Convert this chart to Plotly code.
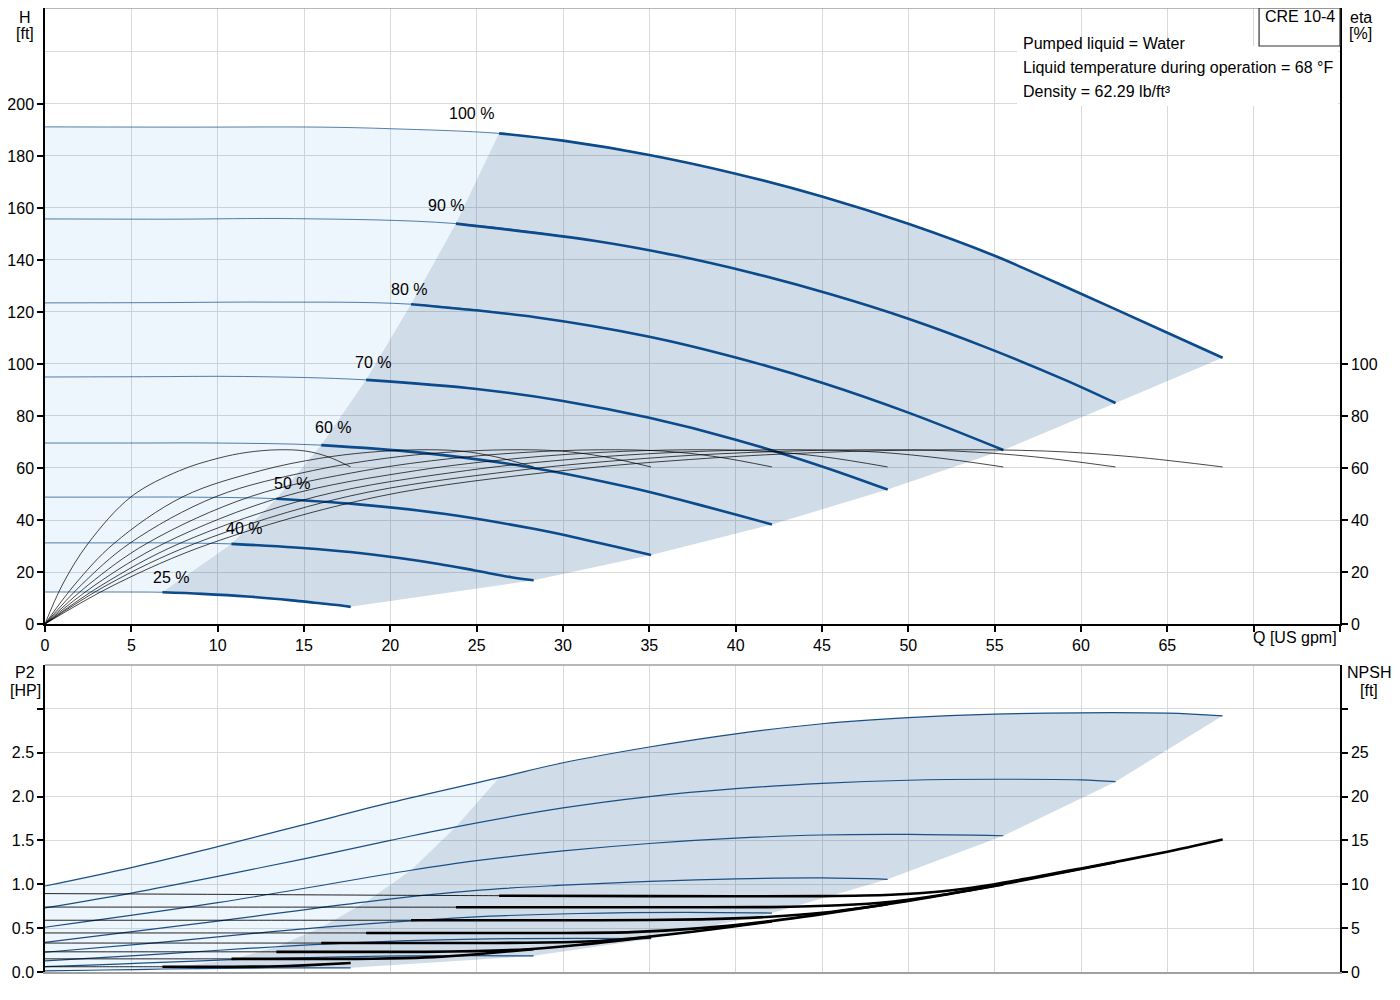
import plotly.graph_objects as go
from plotly.subplots import make_subplots

# pump CRE 10-4, speed family 100 % ... 25 %
SPEEDS = ["100 %", "90 %", "80 %", "70 %", "60 %", "50 %", "40 %", "25 %"]
MIN_FLOW = [26.3, 23.8, 21.2, 18.6, 16.0, 13.4, 10.8, 6.8]

# head H [ft] vs Q [US gpm]
H_Q = [
    [0, 8, 16, 20, 26.3, 30, 35, 40, 45, 50, 55, 60, 65, 68.2],
    [0, 7.3, 14.5, 23.8, 31.8, 36.4, 40.9, 45.5, 50, 54.5, 59.1, 62.0],
    [0, 6.5, 13, 21.2, 28.4, 35, 40, 45, 50, 55.5],
    [0, 5.7, 11.5, 18.6, 25, 30, 35, 40, 45, 48.8],
    [0, 4.9, 9.9, 16.0, 21.6, 27.8, 33.9, 37.0, 40.1, 42.1],
    [0, 4.1, 8.2, 13.4, 18.0, 23.2, 28.3, 30.9, 33.5, 35.1],
    [0, 3.3, 6.6, 10.8, 14.5, 18.7, 22.8, 24.9, 27.0, 28.3],
    [0, 2.1, 4.2, 6.8, 9.1, 11.7, 14.3, 15.6, 16.9, 17.7],
]
H_FT = [
    [191.2, 191.1, 191.1, 190.5, 188.7, 185.9, 180.4, 173.2, 164.4, 153.9, 141.6, 127.0, 112.0, 102.4],
    [155.8, 155.7, 155.9, 154.0, 147.4, 141.9, 135.1, 126.8, 117.4, 106.4, 93.8, 85.0],
    [123.5, 123.6, 123.8, 123.0, 118.0, 110.5, 102.5, 92.8, 81.3, 66.9],
    [95.0, 95.1, 95.2, 93.9, 90.4, 85.8, 79.3, 70.9, 60.6, 51.7],
    [69.6, 69.6, 69.6, 68.8, 66.0, 60.6, 52.5, 47.4, 41.9, 38.3],
    [48.8, 48.8, 48.8, 48.2, 46.1, 42.3, 36.6, 33.0, 29.0, 26.5],
    [31.2, 31.2, 31.2, 30.8, 29.4, 26.9, 23.1, 20.6, 18.0, 16.8],
    [12.3, 12.3, 12.3, 12.2, 11.6, 10.6, 9.1, 8.2, 7.3, 6.6],
]

# efficiency eta [%]
ETA_Q = [
    [0, 4, 9.6, 19.3, 30, 38.3, 45, 52, 58, 63, 68.2],
    [0, 3.6, 8.7, 17.5, 27.3, 34.8, 40.9, 47.3, 52.7, 57.3, 62.0],
    [0, 3.3, 7.8, 15.7, 24.4, 31.1, 36.5, 42.2, 47.2, 51.2, 55.5],
    [0, 2.9, 6.9, 13.8, 21.5, 27.4, 32.2, 37.2, 41.5, 45.1, 48.8],
    [0, 2.5, 5.9, 11.9, 18.5, 23.6, 27.8, 32.1, 35.8, 38.9, 42.1],
    [0, 2.1, 4.9, 9.9, 15.5, 19.7, 23.2, 26.8, 29.9, 32.4, 35.1],
    [0, 1.7, 4.0, 8.0, 12.5, 15.9, 18.7, 21.6, 24.1, 26.1, 28.3],
    [0, 1.0, 2.5, 5.0, 7.8, 10.0, 11.7, 13.5, 15.1, 16.4, 17.7],
]
ETA_PCT = [0, 15, 31, 49, 59, 63.7, 66, 67.0, 66.5, 64.3, 60.4]

# shaft power P2 [HP]
P2_Q = [
    [0, 5, 10, 15, 20, 26.3, 30, 35, 40, 45, 50, 55, 60, 65, 68.2],
    [0, 5, 10, 15, 20, 23.8, 30, 35, 40, 45, 50, 55, 60, 62.0],
    [0, 10, 21.2, 25, 30, 35, 40, 45, 50, 55.5],
    [0, 10, 18.6, 25, 30, 35, 40, 45, 48.8],
    [0, 6.2, 12.3, 16.0, 24.7, 30.9, 37.0, 42.1],
    [0, 5.2, 10.3, 13.4, 20.6, 25.8, 30.9, 35.1],
    [0, 4.2, 8.3, 10.8, 16.6, 20.8, 24.9, 28.3],
    [0, 2.6, 5.2, 6.8, 10.4, 13.0, 15.6, 17.7],
]
P2_HP = [
    [0.98, 1.19, 1.43, 1.68, 1.93, 2.215, 2.385, 2.565, 2.715, 2.83, 2.90, 2.94, 2.955, 2.95, 2.92],
    [0.73, 0.90, 1.09, 1.29, 1.50, 1.655, 1.87, 2.0, 2.09, 2.15, 2.186, 2.197, 2.19, 2.17],
    [0.51, 0.79, 1.16, 1.27, 1.38, 1.465, 1.525, 1.562, 1.568, 1.553],
    [0.337, 0.58, 0.80, 0.93, 0.99, 1.033, 1.062, 1.072, 1.057],
    [0.225, 0.329, 0.444, 0.508, 0.626, 0.667, 0.680, 0.672],
    [0.127, 0.186, 0.251, 0.288, 0.354, 0.377, 0.384, 0.380],
    [0.062, 0.090, 0.122, 0.140, 0.171, 0.183, 0.186, 0.184],
    [0.013, 0.020, 0.028, 0.034, 0.042, 0.046, 0.048, 0.048],
]

# NPSH [ft]
NPSH_Q = [
    [0, 10, 20, 26.3, 35, 45, 49, 52, 55, 60, 65, 68.2],
    [0, 10, 23.8, 35, 42, 46, 49, 52, 56, 62.0],
    [0, 10, 21.2, 32, 38, 42, 45, 50, 55.5],
    [0, 10, 18.6, 30, 34, 38, 42, 45, 48.8],
    [0, 8, 16.0, 26, 30, 33, 36, 39, 42.1],
    [0, 7, 13.4, 22, 25, 28, 31, 35.1],
    [0, 5, 10.8, 18, 20, 22.5, 25, 28.3],
    [0, 3, 6.8, 11, 13, 15, 17.7],
]
NPSH_FT = [
    [8.94, 8.85, 8.75, 8.7, 8.65, 8.65, 8.8, 9.2, 10.0, 11.8, 13.7, 15.1],
    [7.4, 7.4, 7.39, 7.39, 7.4, 7.6, 8.0, 8.8, 10.2, 12.5],
    [5.9, 5.9, 5.9, 5.9, 6.0, 6.3, 6.75, 8.1, 9.97],
    [4.45, 4.45, 4.45, 4.45, 4.55, 5.0, 5.8, 6.6, 7.74],
    [3.3, 3.3, 3.3, 3.3, 3.4, 3.65, 4.25, 4.95, 5.76],
    [2.3, 2.3, 2.3, 2.3, 2.38, 2.6, 3.1, 4.0],
    [1.5, 1.5, 1.5, 1.5, 1.55, 1.7, 2.03, 2.6],
    [0.6, 0.6, 0.6, 0.6, 0.63, 0.75, 1.02],
]

LABEL_Q = [24.7, 23.2, 21.1, 19.0, 16.7, 14.3, 11.5, 7.3]
LABEL_H = [196.5, 160.8, 128.8, 100.4, 75.4, 54.2, 36.9, 17.7]

Q_TICKS = list(range(0, 80, 5))
INFO = ["Pumped liquid = Water",
        "Liquid temperature during operation = 68 \u00b0F",
        "Density = 62.29 lb/ft\u00b3"]

BLUE = "#0b4a8b"
GRID = "#d9d9d9"
LIGHT = "rgba(30,130,230,0.08)"
SHADE = "rgba(20,80,135,0.2)"
FONT = "Liberation Sans, Arial, sans-serif"


def regions(qs, vals):
    n = len(qs)
    idx = [qs[j].index(MIN_FLOW[j]) for j in range(n)]
    lx = qs[0][:idx[0] + 1] + [MIN_FLOW[j] for j in range(1, n)] + qs[-1][:idx[-1]][::-1]
    ly = vals[0][:idx[0] + 1] + [vals[j][idx[j]] for j in range(1, n)] + vals[-1][:idx[-1]][::-1]
    gx = [MIN_FLOW[j] for j in range(n - 1, 0, -1)] + qs[0][idx[0]:] \
        + [qs[j][-1] for j in range(1, n)] + qs[-1][idx[-1]:-1][::-1]
    gy = [vals[j][idx[j]] for j in range(n - 1, 0, -1)] + vals[0][idx[0]:] \
        + [vals[j][-1] for j in range(1, n)] + vals[-1][idx[-1]:-1][::-1]
    return (lx, ly), (gx, gy)


fig = make_subplots(rows=2, cols=1, specs=[[{"secondary_y": True}], [{"secondary_y": True}]])

# ---- top: head + efficiency
(lx, ly), (gx, gy) = regions(H_Q, H_FT)
fig.add_trace(go.Scatter(x=lx, y=ly, fill="toself", fillcolor=LIGHT, mode="none",
                         hoverinfo="skip", showlegend=False), row=1, col=1)
fig.add_trace(go.Scatter(x=gx, y=gy, fill="toself", fillcolor=SHADE, mode="none",
                         hoverinfo="skip", showlegend=False), row=1, col=1)

for j in range(len(SPEEDS)):
    i = H_Q[j].index(MIN_FLOW[j])
    fig.add_trace(go.Scatter(x=H_Q[j], y=H_FT[j], mode="lines",
                             line=dict(color="rgba(11,74,139,0.7)", width=1, shape="spline"),
                             hoverinfo="skip", showlegend=False), row=1, col=1)
    fig.add_trace(go.Scatter(x=H_Q[j][i:], y=H_FT[j][i:], mode="lines", name=SPEEDS[j],
                             line=dict(color=BLUE, width=2.6, shape="spline"),
                             showlegend=False), row=1, col=1)

for j in range(len(SPEEDS)):
    fig.add_trace(go.Scatter(x=ETA_Q[j], y=ETA_PCT, mode="lines",
                             line=dict(color="rgba(0,0,0,0.8)", width=0.9, shape="spline"),
                             hoverinfo="skip", showlegend=False),
                  row=1, col=1, secondary_y=True)

# ---- bottom: power + NPSH
(lx, ly), (gx, gy) = regions(P2_Q, P2_HP)
fig.add_trace(go.Scatter(x=lx, y=ly, fill="toself", fillcolor=LIGHT, mode="none",
                         hoverinfo="skip", showlegend=False), row=2, col=1)
fig.add_trace(go.Scatter(x=gx, y=gy, fill="toself", fillcolor=SHADE, mode="none",
                         hoverinfo="skip", showlegend=False), row=2, col=1)

for j in range(len(SPEEDS)):
    fig.add_trace(go.Scatter(x=P2_Q[j], y=P2_HP[j], mode="lines",
                             line=dict(color="#1a4f85", width=1.2, shape="spline"),
                             hoverinfo="skip", showlegend=False), row=2, col=1)

for j in range(len(SPEEDS)):
    i = NPSH_Q[j].index(MIN_FLOW[j])
    fig.add_trace(go.Scatter(x=NPSH_Q[j], y=NPSH_FT[j], mode="lines",
                             line=dict(color="rgba(0,0,0,0.85)", width=1, shape="spline", smoothing=0.6),
                             hoverinfo="skip", showlegend=False),
                  row=2, col=1, secondary_y=True)
    fig.add_trace(go.Scatter(x=NPSH_Q[j][i:], y=NPSH_FT[j][i:], mode="lines",
                             line=dict(color="black", width=2.6, shape="spline", smoothing=0.6),
                             hoverinfo="skip", showlegend=False),
                  row=2, col=1, secondary_y=True)

tick_font = dict(family=FONT, size=16, color="black")
q_text = [str(v) for v in Q_TICKS[:-2]] + ["", ""]

# the page adds an 8 px body margin, so the figure is 8 px smaller and shifted
fig.update_layout(
    width=1392, height=992,
    margin=dict(l=37, r=60, t=0, b=28, autoexpand=False),
    plot_bgcolor="white", paper_bgcolor="white",
    font=dict(family=FONT, size=16, color="black"),
    xaxis=dict(domain=[0, 1], range=[0, 75], tickvals=Q_TICKS, ticktext=q_text, ticks="outside",
               ticklen=6, tickwidth=1.5, tickcolor="black", showline=True, linecolor="black",
               linewidth=1.5, showgrid=True, gridcolor=GRID, gridwidth=1, zeroline=False,
               tickfont=tick_font),
    yaxis=dict(domain=[0.361, 1.0], range=[0, 236.92], tickvals=list(range(0, 220, 20)),
               ticks="outside", ticklen=6, tickwidth=1.5, tickcolor="black",
               showline=True, linecolor="black", linewidth=1.5,
               showgrid=True, gridcolor=GRID, gridwidth=1, zeroline=False, tickfont=tick_font,
               minor=dict(tickmode="array", tickvals=[220], showgrid=True,
                          gridcolor=GRID, gridwidth=1, ticks="")),
    yaxis2=dict(domain=[0.361, 1.0], range=[0, 236.92], tickvals=list(range(0, 120, 20)),
                ticks="outside", ticklen=6, tickwidth=1.5, tickcolor="black",
                showline=True, linecolor="black", linewidth=1.5, showgrid=False,
                zeroline=False, tickfont=tick_font),
    xaxis2=dict(domain=[0, 1], range=[0, 75], tickvals=Q_TICKS, showticklabels=False, ticks="",
                showline=True, linecolor="#a0a0a0", linewidth=1.5,
                showgrid=True, gridcolor=GRID, gridwidth=1, zeroline=False),
    yaxis3=dict(domain=[0.0, 0.3185], range=[0, 3.5], tickvals=[0, 0.5, 1.0, 1.5, 2.0, 2.5, 3.0],
                ticktext=["0.0", "0.5", "1.0", "1.5", "2.0", "2.5", ""],
                ticks="outside", ticklen=6, tickwidth=1.5, tickcolor="black",
                showline=True, linecolor="black", linewidth=1.5,
                showgrid=True, gridcolor=GRID, gridwidth=1, zeroline=False, tickfont=tick_font),
    yaxis4=dict(domain=[0.0, 0.3185], range=[0, 35], tickvals=[0, 5, 10, 15, 20, 25, 30],
                ticktext=["0", "5", "10", "15", "20", "25", ""],
                ticks="outside", ticklen=6, tickwidth=1.5, tickcolor="black",
                showline=True, linecolor="black", linewidth=1.5, showgrid=False,
                zeroline=False, tickfont=tick_font),
)

shapes = [
    dict(type="line", xref="x domain", yref="y domain", x0=0, x1=1, y0=1, y1=1,
         line=dict(color="#a0a0a0", width=1.5)),
    dict(type="line", xref="x2 domain", yref="y3 domain", x0=0, x1=1, y0=1, y1=1,
         line=dict(color="#a0a0a0", width=1.5)),
    dict(type="rect", xref="paper", yref="paper", x0=0.7506, x1=0.9985, y0=0.8983, y1=0.9606,
         fillcolor="white", line=dict(width=0), layer="above"),
    dict(type="rect", xref="paper", yref="paper", x0=0.9375, x1=1.0, y0=0.9606, y1=1.0,
         fillcolor="white", line=dict(color="#333333", width=1.2), layer="above"),
]
fig.update_layout(shapes=shapes)

notes = []
for j in range(len(SPEEDS)):
    notes.append(dict(x=LABEL_Q[j], y=LABEL_H[j], xref="x", yref="y", text=SPEEDS[j],
                      showarrow=False, xanchor="center", yanchor="middle"))

axis_titles = [
    ("H", -0.0154, 0.9897), ("[ft]", -0.0154, 0.9731),
    ("eta", 1.0162, 0.9897), ("[%]", 1.0162, 0.9731),
    ("P2", -0.0154, 0.3112), ("[HP]", -0.0154, 0.2925),
    ("NPSH", 1.0224, 0.3112), ("[ft]", 1.0224, 0.2925),
]
for txt, px, py in axis_titles:
    notes.append(dict(x=px, y=py, xref="paper", yref="paper", text=txt, showarrow=False,
                      xanchor="center", yanchor="middle"))

notes.append(dict(x=70, y=0.3465, xref="x", yref="paper", text="Q [US gpm]", showarrow=False,
                  xanchor="left", yanchor="middle", xshift=-3))
notes.append(dict(x=0.9691, y=0.9917, xref="paper", yref="paper", text="CRE 10-4",
                  showarrow=False, xanchor="center", yanchor="middle"))
for k, line in enumerate(INFO):
    notes.append(dict(x=0.7537, y=0.9627 - k * 0.0249, xref="paper", yref="paper", text=line,
                      showarrow=False, xanchor="left", yanchor="middle"))

fig.update_layout(annotations=notes)

fig.write_html("out.html")
